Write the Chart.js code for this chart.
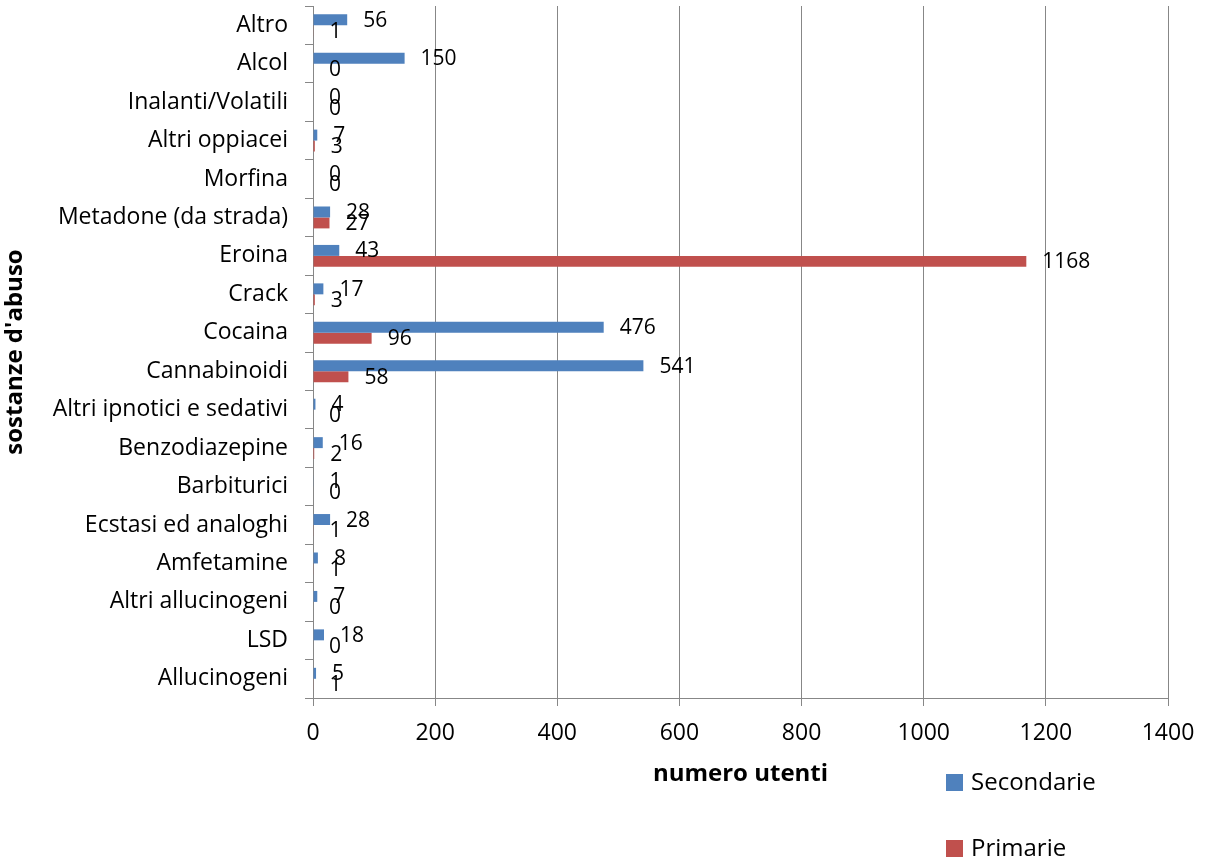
<!DOCTYPE html>
<html>
<head>
<meta charset="utf-8">
<script src="https://cdn.jsdelivr.net/npm/chart.js@4.4.1/dist/chart.umd.min.js"></script>
<style>
  html, body { margin: 0; padding: 0; background: #fff; }
  #wrap { width: 1206px; height: 863px; position: relative; }
</style>
</head>
<body>
<div id="wrap"><canvas id="c" width="1206" height="863"></canvas></div>
<script>
const categories = [
  "Altro", "Alcol", "Inalanti/Volatili", "Altri oppiacei", "Morfina",
  "Metadone (da strada)", "Eroina", "Crack", "Cocaina", "Cannabinoidi",
  "Altri ipnotici e sedativi", "Benzodiazepine", "Barbiturici",
  "Ecstasi ed analoghi", "Amfetamine", "Altri allucinogeni", "LSD", "Allucinogeni"
];
const secondarie = [56, 150, 0, 7, 0, 28, 43, 17, 476, 541, 4, 16, 1, 28, 8, 7, 18, 5];
const primarie   = [1, 0, 0, 3, 0, 27, 1168, 3, 96, 58, 0, 2, 0, 1, 1, 0, 0, 1];
const xTicks = [0, 200, 400, 600, 800, 1000, 1200, 1400];

const FONT = "'Open Sans', 'DejaVu Sans', sans-serif";
const GRID = '#878787';

const labelPlugin = {
  id: 'valueLabels',
  afterDatasetsDraw(chart) {
    const ctx = chart.ctx;
    ctx.save();
    ctx.font = '21px ' + FONT;
    ctx.fillStyle = '#000';
    ctx.textAlign = 'left';
    ctx.textBaseline = 'middle';
    chart.data.datasets.forEach((ds, di) => {
      const meta = chart.getDatasetMeta(di);
      meta.data.forEach((el, i) => {
        ctx.fillText(String(ds.data[i]), el.x + 16, el.y + 1);
      });
    });
    ctx.restore();
  }
};

const legendPlugin = {
  id: 'sideLegend',
  afterDraw(chart) {
    const ctx = chart.ctx;
    ctx.save();
    ctx.font = '24px ' + FONT;
    ctx.textAlign = 'left';
    ctx.textBaseline = 'middle';
    const ys = [782, 848];
    chart.data.datasets.forEach((ds, di) => {
      const y = ys[di];
      ctx.fillStyle = ds.backgroundColor;
      ctx.fillRect(946, y - 8, 17, 17);
      ctx.fillStyle = '#000';
      ctx.fillText(ds.label, 971, y + 1);
    });
    ctx.restore();
  }
};

new Chart(document.getElementById('c'), {
  type: 'bar',
  data: {
    labels: categories,
    datasets: [
      { label: 'Secondarie', data: secondarie, backgroundColor: '#4F81BD',
        categoryPercentage: 0.57, barPercentage: 1.0 },
      { label: 'Primarie', data: primarie, backgroundColor: '#C0504D',
        categoryPercentage: 0.57, barPercentage: 1.0 }
    ]
  },
  options: {
    indexAxis: 'y',
    responsive: false,
    animation: false,
    devicePixelRatio: 1,
    layout: { padding: { top: 6, right: 38, left: 0, bottom: 65 } },
    plugins: { legend: { display: false }, tooltip: { enabled: false } },
    scales: {
      x: {
        min: 0, max: 1400,
        afterBuildTicks(scale) { scale.ticks = xTicks.map(v => ({ value: v })); },
        afterFit(scale) { scale.height = 100; scale.paddingLeft = 0; scale.paddingRight = 0; },
        ticks: { font: { size: 23, family: FONT }, color: '#000', padding: 14, maxRotation: 0,
          callback: v => String(v) },
        grid: { color: GRID, lineWidth: 1, drawTicks: true, tickLength: 8, tickColor: GRID },
        border: { color: GRID, width: 1 },
        title: { display: true, text: 'numero utenti', color: '#000',
          font: { size: 24, weight: 'bold', family: FONT }, padding: { top: 0, bottom: 9 } }
      },
      y: {
        afterFit(scale) { scale.width = 313; scale.paddingTop = 0; scale.paddingBottom = 0; },
        ticks: { font: { size: 23, family: FONT }, color: '#000', padding: 17, autoSkip: false },
        grid: { display: true, drawOnChartArea: false, drawTicks: true, tickLength: 8,
          tickColor: GRID, offset: true },
        border: { color: GRID, width: 1 },
        title: { display: true, text: "sostanze d'abuso", color: '#000',
          font: { size: 24, weight: 'bold', family: FONT }, padding: { top: 1, bottom: 0 } }
      }
    }
  },
  plugins: [labelPlugin, legendPlugin]
});
</script>
</body>
</html>
